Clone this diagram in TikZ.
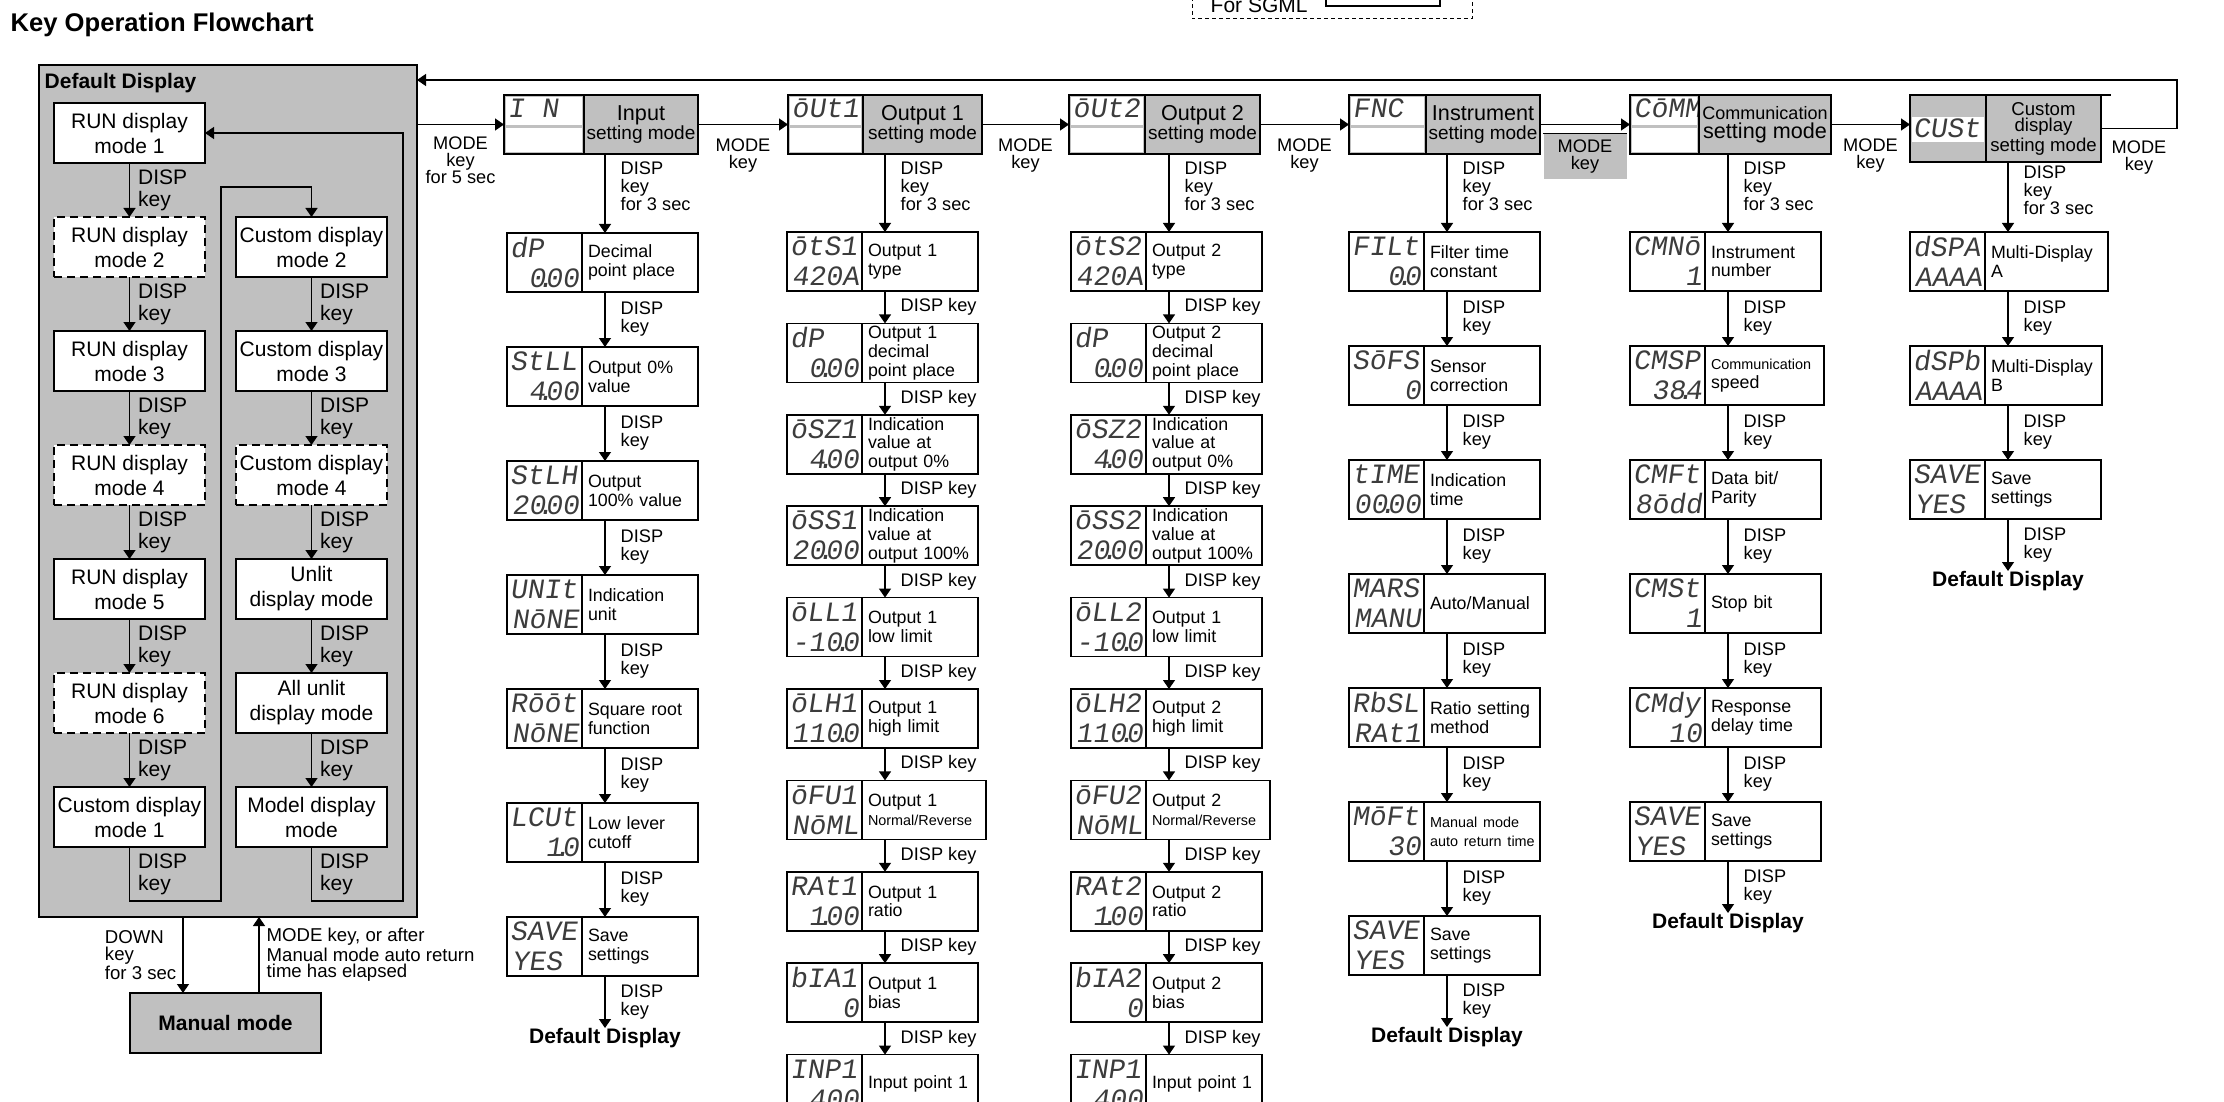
\documentclass[tikz,border=0pt]{standalone}
\usepackage{fontspec}
\setmainfont{Liberation Sans}
\newfontfamily\lcdfont{Liberation Mono}[FakeSlant=0.15]
\usetikzlibrary{positioning,arrows.meta,calc}

\definecolor{panelgray}{RGB}{192,192,192}
\definecolor{lcdink}{RGB}{60,60,60}

\newcommand{\segdot}{\makebox[0pt]{.}}
\newcommand{\lcdtxt}[2]{#1\\\makebox[34.5pt][r]{#2}}
\newcommand{\bigline}{\fontsize{10.8}{9.5}\selectfont}
\newcommand{\smallline}{\fontsize{7.2}{9}\selectfont}
\newcommand{\nohyph}{\hyphenpenalty=10000\relax\exhyphenpenalty=10000\relax}

% one setting item: LCD part and description part
\newcommand{\menubox}[6][52pt]{%
  \node[lcd, #3] (#2-lcd) {\lcdtxt{#4}{#5}};
  \node[desc, text width=#1] (#2) at (#2-lcd.north east) {\nohyph #6};
}
% one setting mode header
\newcommand{\modebox}[6]{%
  \node[hlcd, minimum width=#3] (#1-lcd) at #2 {};
  \node[hcode] at (#1-lcd.north west) {#5};
  \node[hdesc, minimum width=#4] (#1) at (#1-lcd.north east) {#6};
}

\begin{document}
\begin{tikzpicture}[x=0.5pt, y=-0.5pt, line width=0.7pt,
    >={Triangle[width=6pt,length=4.5pt]},
    panel/.style={draw, line width=0.8pt, fill=panelgray, outer sep=0pt},
    runbox/.style={draw, line width=0.7pt, fill=white, anchor=north west, outer sep=0pt, inner sep=1pt, minimum width=75.5pt, minimum height=30pt, align=center, font=\fontsize{10.5}{12.5}\selectfont},
    optbox/.style={runbox, dash pattern=on 4pt off 2.5pt},
    panelkey/.style={inner sep=1pt, align=left, font=\fontsize{10.5}{11}\selectfont},
    manual/.style={draw, line width=0.9pt, fill=panelgray, anchor=north west, outer sep=0pt, minimum width=95.5pt, minimum height=30pt, font=\bfseries\fontsize{10.5}{12}\selectfont},
    notelabel/.style={inner sep=1pt, align=left, font=\fontsize{9.3}{8.3}\selectfont},
    hlcd/.style={draw, line width=0.8pt, fill=panelgray, anchor=north west, outer sep=0pt, minimum height=29.5pt,
      path picture={
        \fill[white] ([shift={(1pt,-1pt)}]path picture bounding box.north west) rectangle ([shift={(-1pt,-15pt)}]path picture bounding box.north east);
        \fill[white] ([shift={(1pt,-16.5pt)}]path picture bounding box.north west) rectangle ([shift={(-1pt,1pt)}]path picture bounding box.south east);
      }},
    custlcd/.style={draw, line width=0.8pt, fill=panelgray, anchor=north west, outer sep=0pt, minimum width=38pt, minimum height=33.5pt, inner xsep=1.5pt, text width=35pt, align=left, font=\lcdfont\fontsize{14}{15}\selectfont, text=lcdink,
      path picture={
        \fill[white] ([shift={(1pt,-11pt)}]path picture bounding box.north west) rectangle ([shift={(-1pt,-23.5pt)}]path picture bounding box.north east);
      }},
    hcode/.style={anchor=north west, inner sep=1.5pt, font=\lcdfont\fontsize{14}{15}\selectfont, text=lcdink},
    hdesc/.style={draw, line width=0.8pt, fill=panelgray, anchor=north west, outer sep=0pt, inner sep=1pt, minimum height=29.5pt, align=center, font=\fontsize{9.5}{9.5}\selectfont},
    lcd/.style={draw, line width=0.8pt, fill=white, anchor=north west, outer sep=0pt, minimum width=37.5pt, minimum height=29.5pt, inner xsep=1.5pt, inner ysep=0pt, text width=34.5pt, align=left, font=\lcdfont\fontsize{14}{15}\selectfont, text=lcdink},
    desc/.style={draw, line width=0.8pt, fill=white, anchor=north west, outer sep=0pt, minimum height=29.5pt, inner xsep=3pt, inner ysep=0pt, align=left, font=\fontsize{8.9}{9.4}\selectfont},
    keylabel/.style={inner sep=1pt, align=left, font=\fontsize{9.1}{9}\selectfont},
    modelabel/.style={inner sep=1pt, align=center, font=\fontsize{9.1}{8.5}\selectfont},
    endlbl/.style={inner sep=0pt, font=\bfseries\fontsize{10.5}{12}\selectfont}
]
\useasboundingbox (0,0) rectangle (2224,1102);

% title and SGML note
\node[anchor=base west, inner sep=0pt, font=\bfseries\fontsize{12.8}{15}\selectfont] (title) at (10,32) {Key Operation Flowchart};
\draw[line width=0.5pt, dash pattern=on 2pt off 1.5pt] (1192,-10) rectangle (1472,19);
\draw[line width=0.6pt] (1326,-10) rectangle (1440,6);
\node[anchor=base west, inner sep=0pt, font=\fontsize{10.5}{12}\selectfont] (sgml) at (1210,13) {For SGML};

% default display panel
\node[panel, anchor=north west, minimum width=189pt, minimum height=426pt] (dflt) at (39,65) {};
\node[anchor=west, inner sep=0pt, font=\bfseries\fontsize{10.5}{12}\selectfont] (dflt-t) at (44,83) {Default Display};

\node[runbox] (run1) at (54,103) {RUN display\\mode 1};
\node[optbox, below=27pt of run1] (run2) {RUN display\\mode 2};
\node[runbox, below=27pt of run2] (run3) {RUN display\\mode 3};
\node[optbox, below=27pt of run3] (run4) {RUN display\\mode 4};
\node[runbox, below=27pt of run4] (run5) {RUN display\\mode 5};
\node[optbox, below=27pt of run5] (run6) {RUN display\\mode 6};
\node[runbox, below=27pt of run6] (cd1) {Custom display\\mode 1};

\node[runbox] (cd2) at (236,217) {Custom display\\mode 2};
\node[runbox, below=27pt of cd2] (cd3) {Custom display\\mode 3};
\node[optbox, below=27pt of cd3] (cd4) {Custom display\\mode 4};
\node[runbox, below=27pt of cd4] (unlit) {Unlit\\display mode};
\node[runbox, below=27pt of unlit] (allunlit) {All unlit\\display mode};
\node[runbox, below=27pt of allunlit] (model) {Model display\\mode};

\foreach \a/\b in {run1/run2,run2/run3,run3/run4,run4/run5,run5/run6,run6/cd1,cd2/cd3,cd3/cd4,cd4/unlit,unlit/allunlit,allunlit/model}
  \draw[->] (\a) -- (\b) node[midway, right=3pt, panelkey] {DISP\\key};

\draw[->] (cd1.south) |- (221,901) node[pos=.25, right=3pt, panelkey] {DISP\\key} -- (221,187) -| (cd2.north);
\draw[->] (model.south) |- (403,901) node[pos=.25, right=3pt, panelkey] {DISP\\key} -- (403,133) -- (run1.east);

% manual mode
\node[manual] (man) at (130,993) {Manual mode};
\coordinate (dn) at ([xshift=26.5pt]man.north west);
\coordinate (up) at ([xshift=64.5pt]man.north west);
\draw[->] (dn |- dflt.south) -- (dn) node[midway, left=2pt, notelabel] {DOWN\\key\\for 3 sec};
\draw[->] (up) -- (up |- dflt.south) node[midway, right=2.5pt, notelabel] {MODE key, or after\\Manual mode auto return\\time has elapsed};

% setting mode headers
\modebox{in}{(504,95)}{40pt}{57pt}{I N}{{\bigline Input}\\setting mode}
\modebox{o1}{(788,95)}{37.5pt}{59.5pt}{ōUt1}{{\bigline Output 1}\\setting mode}
\modebox{o2}{(1069,95)}{38pt}{57.5pt}{ōUt2}{{\bigline Output 2}\\setting mode}
\modebox{fn}{(1349,95)}{38.5pt}{57pt}{FNC}{{\bigline Instrument}\\setting mode}
\modebox{cm}{(1630,95)}{34.5pt}{66pt}{CōMM}{{\fontsize{9}{9.5}\selectfont Communication}\\{\bigline setting mode}}
\node[custlcd] (cu-lcd) at (1910,95) {CUSt};
\node[hdesc, minimum width=57.5pt, minimum height=33.5pt, font=\fontsize{9.3}{8.3}\selectfont] (cu) at (cu-lcd.north east) {Custom\\display\\setting mode};
\draw[line width=0.8pt] (cu.north east) -- ++(10,0);

\draw[->] (in-lcd.west -| dflt.east) -- (in-lcd.west) node[midway, below=5pt, modelabel] {MODE\\key\\for 5 sec};
\draw[->] (in.east) -- (o1-lcd.west) node[midway, below=6pt, modelabel] {MODE\\key};
\draw[->] (o1.east) -- (o2-lcd.west) node[midway, below=6pt, modelabel] {MODE\\key};
\draw[->] (o2.east) -- (fn-lcd.west) node[midway, below=6pt, modelabel] {MODE\\key};
\draw[->] (fn.east) -- (cm-lcd.west) node[midway, below=4.5pt, modelabel, fill=panelgray, minimum width=41.5pt, minimum height=22.5pt] (fnkey) {MODE\\key};
\draw[line width=0.6pt] (fnkey.north west) -- (fnkey.north east);
\draw[->] (cm.east) -- (cm.east -| cu-lcd.west) node[midway, below=6pt, modelabel] {MODE\\key};
\draw[->] (cu.east) -- ++(76,0) node[midway, below=5pt, modelabel] {MODE\\key} |- ([yshift=-7.5pt]dflt.north east);

% input setting mode
\menubox{in1}{at={(507,233)}}{dP}{0\segdot00}{Decimal\\point place}
\menubox{in2}{below=27.5pt of in1-lcd}{StLL}{4\segdot00}{Output 0\%\\value}
\menubox{in3}{below=27.5pt of in2-lcd}{StLH}{20\segdot00}{Output\\100\% value}
\menubox{in4}{below=27.5pt of in3-lcd}{UNIt}{NōNE}{Indication\\unit}
\menubox{in5}{below=27.5pt of in4-lcd}{Rōōt}{NōNE}{Square root\\function}
\menubox{in6}{below=27.5pt of in5-lcd}{LCUt}{1\segdot0}{Low lever\\cutoff}
\menubox{in7}{below=27.5pt of in6-lcd}{SAVE}{YES\phantom{0}}{Save\\settings}

% output 1 setting mode
\menubox{oa1}{at={(787,232)}}{ōtS1}{420A}{Output 1\\type}
\menubox{ob1}{below=16.2pt of oa1-lcd}{dP}{0\segdot00}{Output 1\\decimal\\point place}
\menubox{oc1}{below=16.2pt of ob1-lcd}{ōSZ1}{4\segdot00}{Indication\\value at\\output 0\%}
\menubox{od1}{below=16.2pt of oc1-lcd}{ōSS1}{20\segdot00}{Indication\\value at\\output 100\%}
\menubox{oe1}{below=16.2pt of od1-lcd}{ōLL1}{-10\segdot0}{Output 1\\low limit}
\menubox{of1}{below=16.2pt of oe1-lcd}{ōLH1}{110\segdot0}{Output 1\\high limit}
\menubox[56pt]{og1}{below=16.2pt of of1-lcd}{ōFU1}{NōML}{Output 1\\{\smallline Normal/Reverse}}
\menubox{oh1}{below=16.2pt of og1-lcd}{RAt1}{1\segdot00}{Output 1\\ratio}
\menubox{oi1}{below=16.2pt of oh1-lcd}{bIA1}{0}{Output 1\\bias}
\menubox{oj1}{below=16.2pt of oi1-lcd}{INP1}{4\segdot00}{Input point 1}

% output 2 setting mode
\menubox{oa2}{at={(1071,232)}}{ōtS2}{420A}{Output 2\\type}
\menubox{ob2}{below=16.2pt of oa2-lcd}{dP}{0\segdot00}{Output 2\\decimal\\point place}
\menubox{oc2}{below=16.2pt of ob2-lcd}{ōSZ2}{4\segdot00}{Indication\\value at\\output 0\%}
\menubox{od2}{below=16.2pt of oc2-lcd}{ōSS2}{20\segdot00}{Indication\\value at\\output 100\%}
\menubox{oe2}{below=16.2pt of od2-lcd}{ōLL2}{-10\segdot0}{Output 1\\low limit}
\menubox{of2}{below=16.2pt of oe2-lcd}{ōLH2}{110\segdot0}{Output 2\\high limit}
\menubox[56pt]{og2}{below=16.2pt of of2-lcd}{ōFU2}{NōML}{Output 2\\{\smallline Normal/Reverse}}
\menubox{oh2}{below=16.2pt of og2-lcd}{RAt2}{1\segdot00}{Output 2\\ratio}
\menubox{oi2}{below=16.2pt of oh2-lcd}{bIA2}{0}{Output 2\\bias}
\menubox{oj2}{below=16.2pt of oi2-lcd}{INP1}{4\segdot00}{Input point 1}

% instrument setting mode
\menubox{fn1}{at={(1349,232)}}{FILt}{0\segdot0}{Filter time\\constant}
\menubox{fn2}{below=27.5pt of fn1-lcd}{SōFS}{0}{Sensor\\correction}
\menubox{fn3}{below=27.5pt of fn2-lcd}{tIME}{00\segdot00}{Indication\\time}
\menubox[54.5pt]{fn4}{below=27.5pt of fn3-lcd}{MARS}{MANU}{Auto/Manual}
\menubox{fn5}{below=27.5pt of fn4-lcd}{RbSL}{RAt1}{Ratio setting\\method}
\menubox{fn6}{below=27.5pt of fn5-lcd}{MōFt}{30}{{\smallline Manual mode}\\{\smallline\mbox{auto return time}}}
\menubox{fn7}{below=27.5pt of fn6-lcd}{SAVE}{YES\phantom{0}}{Save\\settings}

% communication setting mode
\menubox{cm1}{at={(1630,232)}}{CMNō}{1}{Instrument\\number}
\menubox[53.5pt]{cm2}{below=27.5pt of cm1-lcd}{CMSP}{38\segdot4}{{\smallline Communication}\\speed}
\menubox{cm3}{below=27.5pt of cm2-lcd}{CMFt}{8ōdd}{Data bit/\\Parity}
\menubox{cm4}{below=27.5pt of cm3-lcd}{CMSt}{1}{Stop bit}
\menubox{cm5}{below=27.5pt of cm4-lcd}{CMdy}{10}{Response\\delay time}
\menubox{cm6}{below=27.5pt of cm5-lcd}{SAVE}{YES\phantom{0}}{Save\\settings}

% custom display setting mode
\menubox[55.5pt]{cs1}{at={(1910,232)}}{dSPA}{AAAA}{Multi-Display\\A}
\menubox[52.5pt]{cs2}{below=27.5pt of cs1-lcd}{dSPb}{AAAA}{Multi-Display\\B}
\menubox{cs3}{below=27.5pt of cs2-lcd}{SAVE}{YES\phantom{0}}{Save\\settings}

% column arrows
\foreach \c/\h in {in/in1, o1/oa1, o2/oa2, fn/fn1, cm/cm1, cu/cs1} {
  \coordinate (\c-ax) at ([xshift=49pt]\h-lcd.north west);
  \draw[->] (\c-ax |- \c.south) -- (\c-ax) node[midway, right=6.5pt, yshift=3.5pt, keylabel] {DISP\\key\\for 3 sec};
}
\foreach \a/\b in {in1/in2,in2/in3,in3/in4,in4/in5,in5/in6,in6/in7,
                   fn1/fn2,fn2/fn3,fn3/fn4,fn4/fn5,fn5/fn6,fn6/fn7,
                   cm1/cm2,cm2/cm3,cm3/cm4,cm4/cm5,cm5/cm6,
                   cs1/cs2,cs2/cs3}
  \draw[->] ([xshift=49pt]\a-lcd.south west) -- ([xshift=49pt]\b-lcd.north west) node[midway, right=6.5pt, keylabel] {DISP\\key};
\foreach \a/\b in {oa1/ob1,ob1/oc1,oc1/od1,od1/oe1,oe1/of1,of1/og1,og1/oh1,oh1/oi1,oi1/oj1,
                   oa2/ob2,ob2/oc2,oc2/od2,od2/oe2,oe2/of2,of2/og2,og2/oh2,oh2/oi2,oi2/oj2}
  \draw[->] ([xshift=49pt]\a-lcd.south west) -- ([xshift=49pt]\b-lcd.north west) node[midway, right=6.5pt, keylabel] {DISP key};

% back to the default display
\foreach \a in {in7, fn7, cm6, cs3} {
  \coordinate (\a-end) at ([xshift=49pt]\a-lcd.south west);
  \node[endlbl, below=26pt of \a-end] (\a-dd) {Default Display};
  \draw[->] (\a-end) -- (\a-dd);
  \node[keylabel, right=6.5pt] at ($(\a-end)!0.5!(\a-dd.north)$) {DISP\\key};
}
\end{tikzpicture}
\end{document}
